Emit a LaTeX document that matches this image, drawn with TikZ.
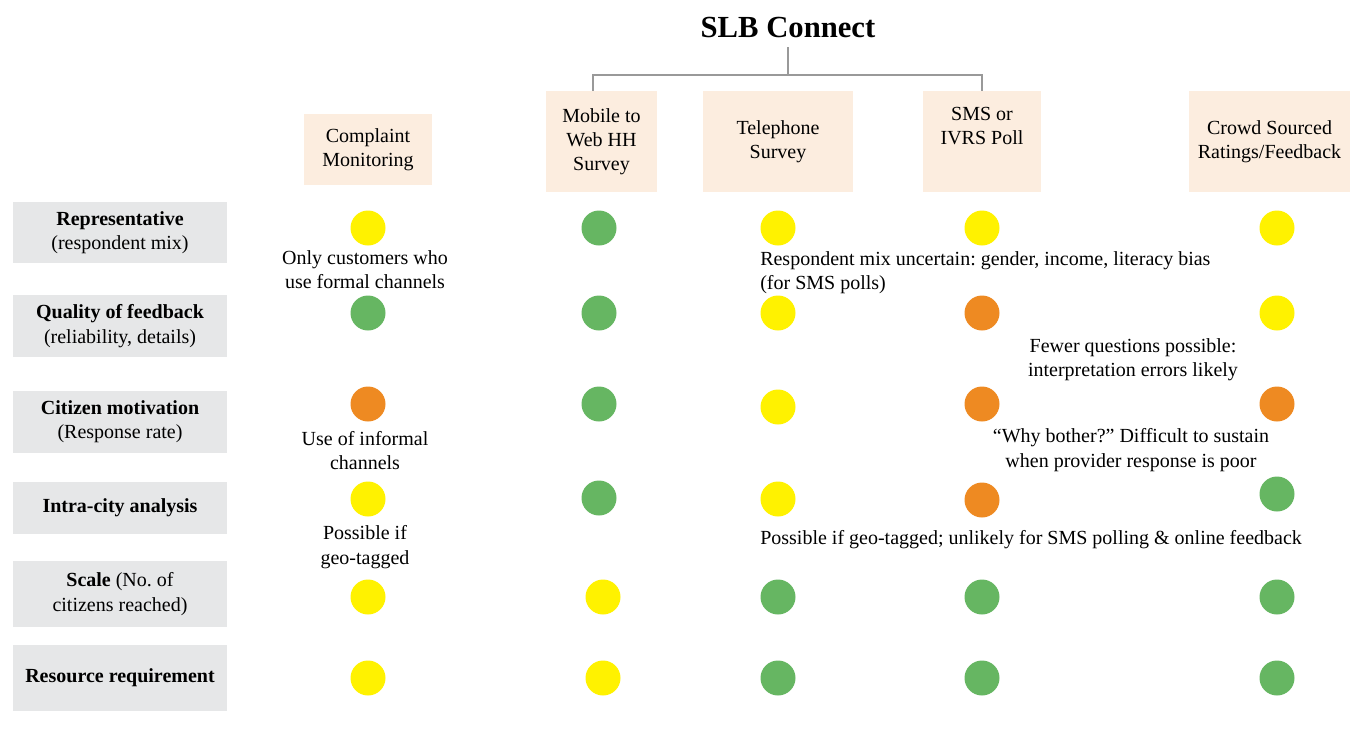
\documentclass[tikz,border=0pt]{standalone}
\usepackage{fontspec}
\setmainfont{Liberation Serif}
\frenchspacing
\begin{document}
\begin{tikzpicture}[x=0.75pt,y=-0.75pt,
  every node/.style={font=\fontsize{15}{18.2}\selectfont},
  head/.style={fill=peach, inner sep=0pt, align=center, minimum height=75.75pt},
  crit/.style={fill=critgray, inner sep=0pt, align=center, minimum width=160.5pt},
  dot/.style={circle, inner sep=0pt, minimum size=26.25pt},
  Y/.style={dot, fill=dotyellow},
  G/.style={dot, fill=dotgreen},
  O/.style={dot, fill=dotorange},
  note/.style={align=center, inner sep=0pt},
  notel/.style={align=left, inner sep=0pt, anchor=west},
  conn/.style={draw=linegray, line width=2.2pt}
]
\definecolor{peach}{HTML}{FCEDDF}
\definecolor{critgray}{HTML}{E6E7E8}
\definecolor{dotyellow}{HTML}{FFF200}
\definecolor{dotgreen}{HTML}{66B662}
\definecolor{dotorange}{HTML}{EE8A22}
\definecolor{linegray}{HTML}{999999}
\useasboundingbox (0,0) rectangle (1353,732);

% title and tree connector
\node[font=\fontsize{23}{27}\selectfont\bfseries, inner sep=0pt] (title) at (788,27) {SLB Connect};

% header boxes
\node[fill=peach, inner sep=0pt, align=center, minimum width=96pt, minimum height=53.25pt] (cm) at (368,149.5) {Complaint\\Monitoring};
\node[head, minimum width=83.25pt] (mw) at (601.5,141.5) {Mobile to\\Web HH\\Survey};
\node[head, minimum width=112.5pt] (ts) at (778,141.5) {Telephone\\Survey};
\node[head, minimum width=88.5pt] (sms) at (982,141.5) {SMS or\\IVRS Poll\\\strut};
\node[head, minimum width=120.75pt] (cs) at (1269.5,141.5) {Crowd Sourced\\Ratings/Feedback};

\coordinate (jt) at (788,75);
\coordinate (jl) at (593,75);
\coordinate (jr) at (982,75);
\draw[conn] (title.south |- 0,47) -- (jt);
\draw[conn] (jl |- mw.north) -- (jl) -- (jr) -- (jr |- sms.north);

% criteria boxes
\node[crit, minimum height=45.75pt] (r1) at (120,232.5) {\textbf{Representative}\\(respondent mix)};
\node[crit, minimum height=46.5pt] (r2) at (120,326) {\textbf{Quality of feedback}\\(reliability, details)};
\node[crit, minimum height=46.5pt] (r3) at (120,422) {\textbf{Citizen motivation}\\(Response rate)};
\node[crit, minimum height=39pt] (r4) at (120,508) {\textbf{Intra-city analysis}};
\node[crit, minimum height=49.5pt] (r5) at (120,594) {\textbf{Scale} (No. of\\citizens reached)};
\node[crit, minimum height=49.5pt] (r6) at (120,678) {\textbf{Resource requirement}};

% row 1
\node[Y] (d11) at (368,228) {};
\node[G] (d12) at (599,228) {};
\node[Y] (d13) at (778,228) {};
\node[Y] (d14) at (982,228) {};
\node[Y] (d15) at (1277,228) {};
% row 2
\node[G] (d21) at (368,313) {};
\node[G] (d22) at (599,313) {};
\node[Y] (d23) at (778,313) {};
\node[O] (d24) at (982,313) {};
\node[Y] (d25) at (1277,313) {};
% row 3
\node[O] (d31) at (368,404) {};
\node[G] (d32) at (599,404) {};
\node[Y] (d33) at (778,407) {};
\node[O] (d34) at (982,404) {};
\node[O] (d35) at (1277,404) {};
% row 4
\node[Y] (d41) at (368,499) {};
\node[G] (d42) at (599,498) {};
\node[Y] (d43) at (778,499) {};
\node[O] (d44) at (982,500) {};
\node[G] (d45) at (1277,494) {};
% row 5
\node[Y] (d51) at (368,597) {};
\node[Y] (d52) at (603,597) {};
\node[G] (d53) at (778,597) {};
\node[G] (d54) at (982,597) {};
\node[G] (d55) at (1277,597) {};
% row 6
\node[Y] (d61) at (368,678) {};
\node[Y] (d62) at (603,678) {};
\node[G] (d63) at (778,678) {};
\node[G] (d64) at (982,678) {};
\node[G] (d65) at (1277,678) {};

% notes
\node[note] (n1) at (365,269.5) {Only customers who\\use formal channels};
\node[notel] (n2) at (760,273) {Respondent mix uncertain: gender, income, literacy bias\\(for SMS polls)};
\node[note] (n3) at (1133,359.5) {Fewer questions possible:\\interpretation errors likely};
\node[note] (n4) at (365,450.5) {Use of informal\\channels};
\node[note] (n5) at (1131,450) {``Why bother?'' Difficult to sustain\\when provider response is poor};
\node[note] (n6) at (365,547) {Possible if\\geo-tagged};
\node[notel] (n7) at (760,539.5) {Possible if geo-tagged; unlikely for SMS polling \& online feedback};
\end{tikzpicture}
\end{document}
